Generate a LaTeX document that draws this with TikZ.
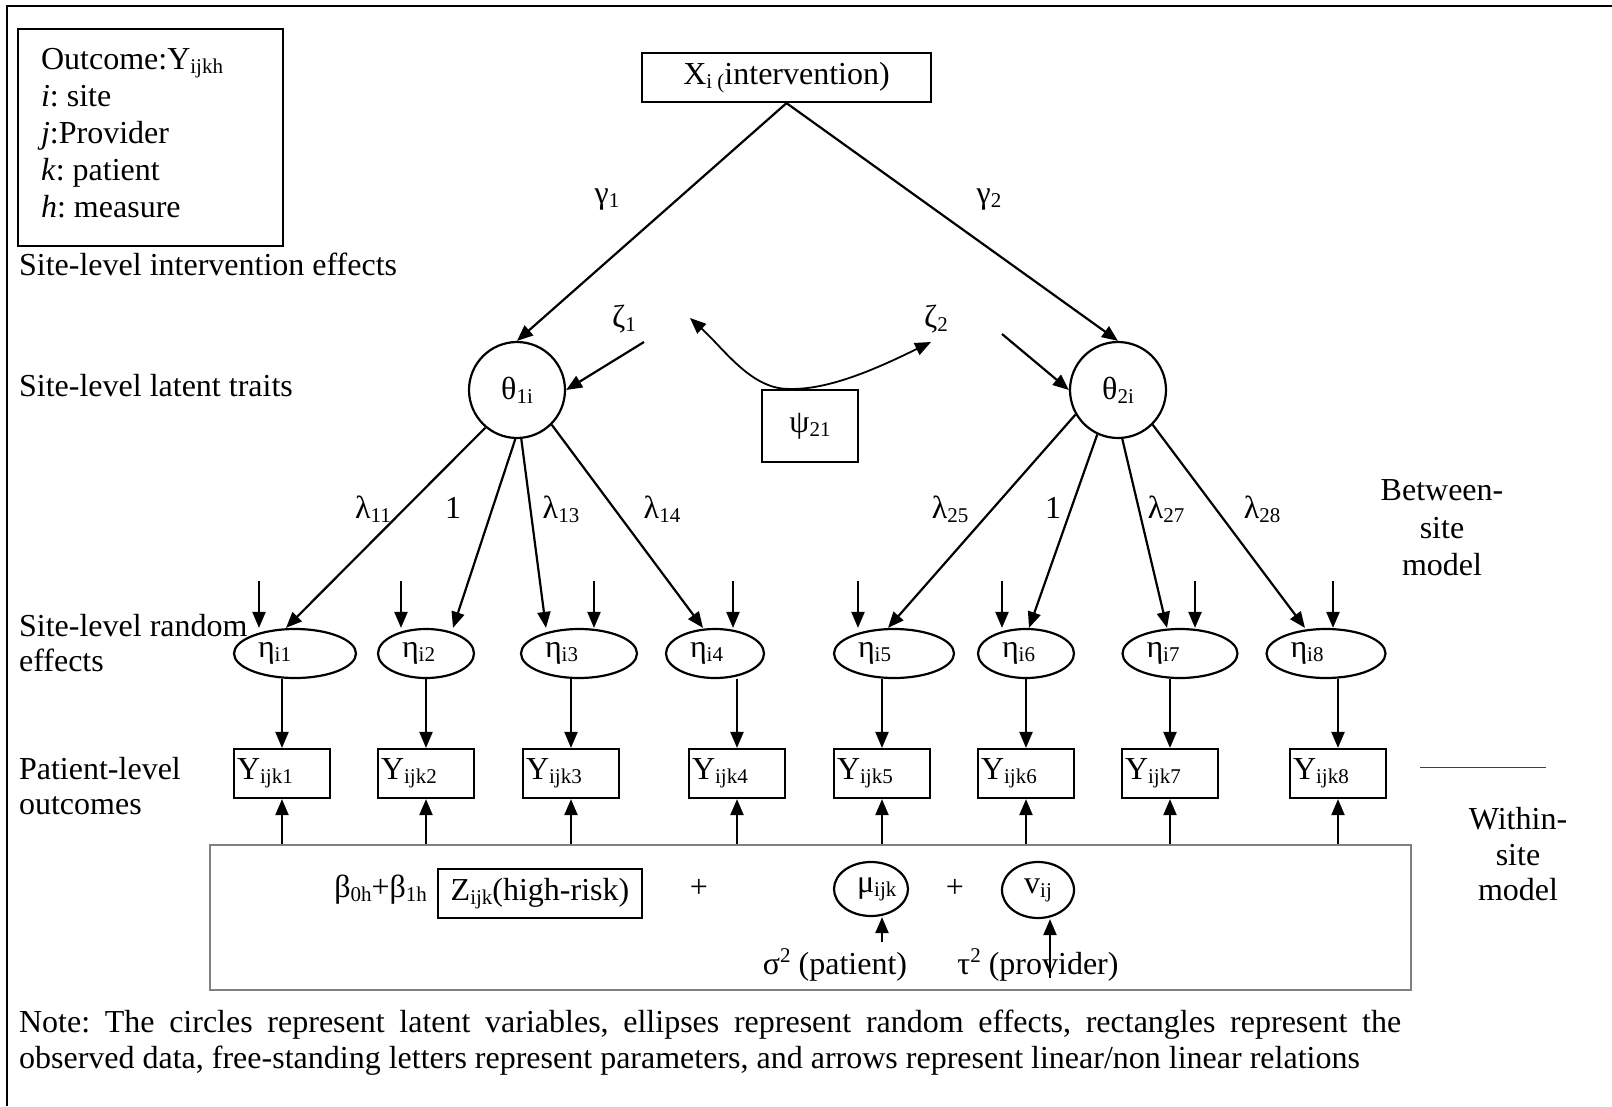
\documentclass[tikz,border=0pt]{standalone}
\usepackage{fontspec}
\setmainfont{Liberation Serif}
\usetikzlibrary{arrows.meta,shapes.geometric}
\frenchspacing
\newcommand\lo[1]{\raisebox{-4pt}{\fontsize{21}{21}\selectfont #1}}
\newcommand\hi[1]{\raisebox{12pt}{\fontsize{21}{21}\selectfont #1}}
\newcommand\mainsize{\fontsize{32}{38}\selectfont}

\begin{document}
\begin{tikzpicture}[x=1pt,y=-1pt,line width=2.2pt,
  every node/.style={font=\mainsize,inner sep=0pt},
  arr/.style={-{Triangle[length=16pt,width=13pt]}},
  dblarr/.style={{Triangle[length=16pt,width=13pt]}-{Triangle[length=16pt,width=13pt]}},
  frm/.style={draw,rectangle},
  obs/.style={draw,rectangle,minimum width=96pt,minimum height=49pt,
              text width=90pt,inner xsep=3pt,align=left},
  eta/.style={draw,ellipse,minimum height=49pt},
  lat/.style={draw,circle,minimum size=96pt},
  lbl/.style={anchor=base west},
  lab/.style={anchor=base},
]
\useasboundingbox (0,0) rectangle (1612,1106);

% open outer frame (top and left edges)
\draw (7,1106) -- (7,6) -- (1612,6);

% legend
\node[frm,minimum width=265pt,minimum height=217pt] (legend) at (150.5,137.5) {};
\node[lbl] (lg1) at (40,69)  {Outcome:Y\lo{ijkh}};
\node[lbl] (lg2) at (40,106) {\textit{i}: site};
\node[lbl] (lg3) at (40,143) {\textit{j}:Provider};
\node[lbl] (lg4) at (40,180) {\textit{k}: patient};
\node[lbl] (lg5) at (40,217) {\textit{h}: measure};

% level labels
\node[lbl] (s1)  at (18,275) {Site-level intervention effects};
\node[lbl] (s2)  at (18,396) {Site-level latent traits};
\node[lbl] (s3)  at (18,636) {Site-level random};
\node[lbl] (s3b) at (18,671) {effects};
\node[lbl] (s4)  at (18,779) {Patient-level};
\node[lbl] (s4b) at (18,814) {outcomes};
\node[lab] (b1) at (1442,500) {Between-};
\node[lab] (b2) at (1442,538) {site};
\node[lab] (b3) at (1442,575) {model};
\node[lab] (w1) at (1518,829) {Within-};
\node[lab] (w2) at (1518,865) {site};
\node[lab] (w3) at (1518,900) {model};

% intervention and latent traits
\node[frm,minimum width=289pt,minimum height=49pt] (X) at (786.5,77.5) {X\lo{i (}intervention)};
\node[lat] (th1) at (517,390) {θ\lo{1i}};
\node[lat] (th2) at (1118,390) {θ\lo{2i}};
\node[frm,minimum width=96pt,minimum height=72pt] (psi) at (810,426) {ψ\lo{21}};

\node[lab] (g1) at (607,203) {γ\lo{1}};
\node[lab] (g2) at (989,203) {γ\lo{2}};
\node[lab] (z1) at (624,327) {ζ\lo{1}};
\node[lab] (z2) at (936,327) {ζ\lo{2}};

\draw[arr] (X.south) -- (th1.north);
\draw[arr] (X.south) -- (th2.north);
\coordinate (z1s) at (644,342);
\coordinate (z2s) at (1002,334);
\draw[arr] (z1s) -- (th1.east);
\draw[arr] (z2s) -- (th2.west);

% covariance between the disturbances
\coordinate (cl) at (690,318);
\coordinate (cb) at ([xshift=-20pt]psi.north);
\coordinate (cr) at (931,342);
\draw[dblarr,line width=1.8pt] (cl) .. controls (725,350) and (752,390) .. (cb)
      .. controls (830,390) and (880,367) .. (cr);

% site-level random effects
\node[eta,minimum width=122pt] (eta1) at (295,653.5)  {\makebox[74pt][l]{η\lo{i1}}};
\node[eta,minimum width=96pt]  (eta2) at (426,653.5)  {\makebox[48pt][l]{η\lo{i2}}};
\node[eta,minimum width=116pt] (eta3) at (579,653.5)  {\makebox[68pt][l]{η\lo{i3}}};
\node[eta,minimum width=98pt]  (eta4) at (715,653.5)  {\makebox[50pt][l]{η\lo{i4}}};
\node[eta,minimum width=120pt] (eta5) at (894,653.5)  {\makebox[72pt][l]{η\lo{i5}}};
\node[eta,minimum width=96pt]  (eta6) at (1026,653.5) {\makebox[48pt][l]{η\lo{i6}}};
\node[eta,minimum width=115pt] (eta7) at (1180,653.5) {\makebox[67pt][l]{η\lo{i7}}};
\node[eta,minimum width=119pt] (eta8) at (1326,653.5) {\makebox[71pt][l]{η\lo{i8}}};

% loadings
\draw[arr] (th1.-130) -- ([xshift=-9pt]eta1.north);
\draw[arr] (th1.-92)  -- ([xshift=27pt]eta2.north);
\draw[arr] (th1.-85)  -- ([xshift=-33pt]eta3.north);
\draw[arr] (th1.-45)  -- ([xshift=-12pt]eta4.north);
\draw[arr] (th2.-150) -- ([xshift=-6pt]eta5.north);
\draw[arr] (th2.-115) -- ([xshift=3pt]eta6.north);
\draw[arr] (th2.-85)  -- ([xshift=-13pt]eta7.north);
\draw[arr] (th2.-45)  -- ([xshift=-21pt]eta8.north);

\node[lab] (l11) at (373,518)  {λ\lo{11}};
\node[lab] (l12) at (453,518)  {1};
\node[lab] (l13) at (561,518)  {λ\lo{13}};
\node[lab] (l14) at (662,518)  {λ\lo{14}};
\node[lab] (l25) at (950,518)  {λ\lo{25}};
\node[lab] (l26) at (1053,518) {1};
\node[lab] (l27) at (1166,518) {λ\lo{27}};
\node[lab] (l28) at (1262,518) {λ\lo{28}};

% residual arrows into the random effects
\foreach \i/\x in {1/259,2/401,3/594,4/733,5/858,6/1002,7/1195,8/1333}{
  \coordinate (e\i) at (\x,581);
  \draw[arr] (e\i) -- (e\i |- eta\i.north);
}

% patient-level outcomes
\foreach \i/\x in {1/282,2/426,3/571,4/737,5/882,6/1026,7/1170,8/1338}{
  \node[obs] (Y\i) at (\x,773.5) {Y\lo{ijk\i}};
  \draw[arr] (Y\i.north |- eta\i.south) -- (Y\i.north);
}

\coordinate (dl) at (1420,767);
\coordinate (dr) at (1546,767);
\draw[line width=1pt,black!75] (dl) -- (dr);

% within-site model
\node[draw=gray,minimum width=1201pt,minimum height=145pt] (wb) at (810.5,917.5) {};
\foreach \i in {1,...,8}{
  \draw[arr] (Y\i.south |- wb.north) -- (Y\i.south);
}
\node[anchor=base east] (beta) at (428,897) {β\lo{0h}+β\lo{1h}};
\node[frm,minimum width=204pt,minimum height=49pt] (Z) at (540,893.5) {Z\lo{ijk}(high-risk)};
\node[lab] (p1) at (699,897) {+};
\node[draw,ellipse,minimum width=74pt,minimum height=54pt] (mu) at (871,889) {\makebox[28pt][l]{μ\lo{ijk}}};
\node[lab] (p2) at (955,897) {+};
\node[draw,ellipse,minimum width=72pt,minimum height=56pt] (nu) at (1038,890) {v\lo{ij}};
\node[lab] (sig) at (835,974) {σ\hi{2} (patient)};
\node[lab] (tau) at (1038,974) {τ\hi{2} (provider)};
\coordinate (ms) at (882,942);
\draw[arr] (ms) -- (ms |- mu.south);
\coordinate (vs) at (1050,978);
\draw[arr] (vs) -- (vs |- nu.south);

% note
\node[lbl] (note1) at (18,1032) {\makebox[1382pt][s]{Note: The circles represent latent variables, ellipses represent random effects, rectangles represent the}};
\node[lbl] (note2) at (18,1068) {observed data, free-standing letters represent parameters, and arrows represent linear/non linear relations};
\end{tikzpicture}
\end{document}
